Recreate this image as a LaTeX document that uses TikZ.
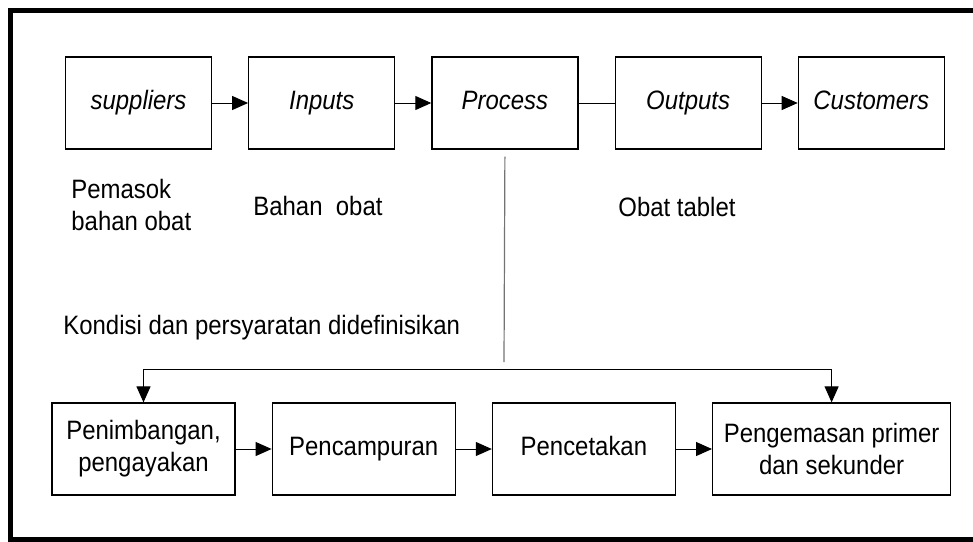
\documentclass[tikz,border=0pt]{standalone}
\usepackage{fontspec}
\setmainfont[FakeStretch=0.9]{Liberation Sans}
\usetikzlibrary{positioning,arrows.meta}
\tikzset{
  kotak/.style={draw=black, line width=0.6pt, minimum height=46pt, inner sep=0pt, align=center},
  kotakatas/.style={kotak, minimum width=73pt, text height=9.5pt, text depth=2.8pt, font=\fontsize{13.3}{16}\selectfont\itshape},
  kotakbawah/.style={kotak, minimum width=91.5pt, font=\fontsize{13.3}{16}\selectfont},
  satubaris/.style={text height=9.5pt, text depth=2.8pt},
  teks/.style={inner sep=0pt, align=left, font=\fontsize{13.3}{16}\selectfont},
  panah/.style={-{Triangle[length=8pt,width=7pt]}, line width=0.5pt},
}

\begin{document}
\begin{tikzpicture}[x=0.5pt, y=-0.5pt]
		%%%%% BINGKAI %%%%%
		\useasboundingbox (0,0) rectangle (973,541);
		\draw[line width=2.5pt] (973,10.5) -- (10.5,10.5) -- (10.5,539.5) -- (973,539.5);
		
		%%%%% BARIS ATAS %%%%%
		\node[kotakatas] (sup) at (138.5,103) {suppliers};
		\node[kotakatas, right=18pt of sup] (inp) {Inputs};
		\node[kotakatas, right=18pt of inp] (proc) {Process};
		\node[kotakatas, right=18pt of proc] (outp) {Outputs};
		\node[kotakatas, right=18pt of outp] (cust) {Customers};
		
		\draw[panah] (sup) -- (inp);
		\draw[panah] (inp) -- (proc);
		\draw[line width=0.5pt] (proc) -- (outp);
		\draw[panah] (outp) -- (cust);
		
		%%%%% KETERANGAN %%%%%
		\node[teks, anchor=west] (pemasok) at (71,205) {Pemasok\\bahan obat};
		\node[teks, anchor=base west] (bahan) at (253,215) {Bahan\ \ obat};
		\node[teks, anchor=base west] (tablet) at (618,216) {Obat tablet};
		\node[teks, anchor=base west] (kondisi) at (63,334) {Kondisi dan persyaratan didefinisikan};
		
		%%%%% BARIS BAWAH %%%%%
		\node[kotakbawah] (timbang) at (143.5,449) {Penimbangan,\\pengayakan};
		\node[kotakbawah, satubaris, right=18pt of timbang] (campur) {Pencampuran};
		\node[kotakbawah, satubaris, right=18pt of campur] (cetak) {Pencetakan};
		\node[kotakbawah, minimum width=119pt, right=18pt of cetak] (kemas) {Pengemasan primer\\dan sekunder};
		
		\draw[panah] (timbang) -- (campur);
		\draw[panah] (campur) -- (cetak);
		\draw[panah] (cetak) -- (kemas);
		
		%%%%% PENGHUBUNG %%%%%
		\coordinate (ujung) at (504,362);
		\coordinate (jalur) at (504,369);
		\draw[line width=0.6pt, black!55] ([yshift=-3.5pt]proc.south) -- (ujung);
		\draw[panah] (jalur) -| (timbang.north);
		\draw[panah] (jalur) -| (kemas.north);
		
		%%%%% SELESAI %%%%%
\end{tikzpicture}
\end{document}
